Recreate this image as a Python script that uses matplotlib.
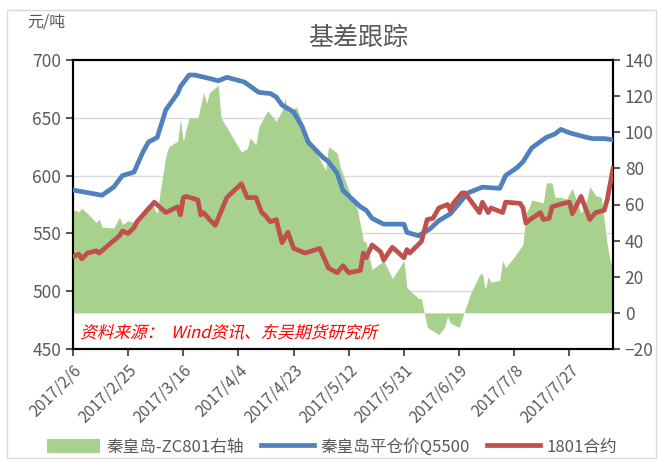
import numpy as np
import pandas as pd
import matplotlib
matplotlib.use('Agg')
import matplotlib.pyplot as plt
from matplotlib.patches import Rectangle, Patch, PathPatch
from matplotlib.lines import Line2D
from matplotlib.textpath import TextPath
from matplotlib.font_manager import FontProperties
from matplotlib.transforms import Affine2D

plt.rcParams['font.family'] = ['Noto Sans CJK SC', 'DejaVu Sans']

start = pd.Timestamp('2017-02-06')

# 秦皇岛-ZC801 (right axis), day offsets from 2017/2/6
green_days = [0, 2, 3, 5, 8, 9, 10, 14, 16, 17, 19, 21, 25, 27, 29, 30, 32, 33, 36, 37,
              38, 39, 40, 43, 45, 46, 47, 50, 51, 58, 60, 61, 63, 64, 67, 70, 72, 73, 74, 76,
              77, 80, 82, 85, 87, 88, 91, 92, 95, 98, 100, 101, 103, 106, 107, 110, 114, 115,
              119, 120, 122, 126, 128, 129, 130, 133, 135, 137, 140, 141, 142, 143, 144, 147,
              148, 149, 152, 155, 156, 157, 158, 162, 163, 165, 166, 168, 170, 172, 173, 175,
              177, 178, 180, 182, 184, 185, 186]
green_vals = [57, 56, 58, 55, 50, 52, 47.5, 47, 53, 49, 51, 50, 58.6, 61, 55, 67, 87, 92, 95, 107,
              95, 102, 108, 108, 122, 116, 122, 126, 108, 89, 91, 97, 93, 103, 112, 106, 112, 119, 111, 113,
              114, 101, 94, 85, 79, 92, 88.5, 81, 68, 57, 40, 39, 24, 27.6, 29, 19, 29, 14,
              8, 8, -8, -12, -8, -2, -5.6, -8, 1.6, 11, 21, 22, 13, 20, 17, 18,
              29, 25, 31, 38, 55, 58, 62.5, 61, 72, 72, 64, 64, 63, 69, 64, 55,
              62.5, 70, 65, 64, 38, 29, 25]

# 秦皇岛平仓价Q5500 (left axis)
blue_days = [0, 10, 14, 17, 21, 24, 26, 29, 32, 36, 37, 40, 42, 47, 50, 53, 59, 64, 68, 70,
             72, 76, 79, 81, 86, 88, 91, 93, 99, 101, 103, 107, 114, 115, 119, 123, 126, 130,
             134, 136, 140, 141, 147, 149, 153, 155, 156, 158, 163, 166, 168, 171, 177, 179,
             183, 186]
blue_vals = [587.5, 583, 590, 600, 603, 620, 629, 633, 657, 671, 677, 687, 687, 684, 682, 685,
             681, 672, 671, 668, 661, 655, 642, 629, 616, 612, 602, 587, 573, 570, 563, 558,
             558, 551, 548, 554, 561, 567, 579, 585, 589, 590, 589, 600, 607, 612, 616, 624,
             633, 636, 640, 637, 633, 632, 632, 631]

# 1801合约 (left axis)
red_days = [0, 2, 3, 5, 8, 9, 16, 17, 19, 21, 22, 28, 32, 36, 37, 38, 39, 43, 44, 45, 47, 49,
            52, 53, 58, 60, 63, 65, 66, 68, 70, 72, 74, 76, 79, 80, 85, 88, 91, 93, 95, 99,
            100, 101, 103, 106, 107, 110, 114, 115, 116, 120, 122, 124, 126, 129, 130, 131,
            134, 135, 140, 141, 143, 144, 148, 149, 154, 155, 156, 158, 161, 162, 164, 165,
            169, 171, 172, 175, 178, 180, 183, 184, 186]
red_vals = [530, 532, 528, 533, 535, 533, 548, 552, 550, 555, 560, 577, 568, 573, 566, 581, 582,
            579, 566, 568, 562, 557, 575, 581, 593, 581, 581, 568, 566, 560, 562, 542, 551, 537,
            534, 533, 537, 520, 516, 522, 516, 518, 533, 529, 540, 534, 527, 538, 529, 536, 533,
            543, 562, 563, 572, 575, 570, 576, 585, 585, 568, 577, 568, 572, 568, 577, 576, 572,
            559, 563, 568, 562, 563, 573, 576, 577, 567, 582, 562, 568, 570, 579, 606]

green_dates = start + pd.to_timedelta(green_days, unit='D')
blue_dates = start + pd.to_timedelta(blue_days, unit='D')
red_dates = start + pd.to_timedelta(red_days, unit='D')
end = start + pd.Timedelta(days=186)
tick_dates = pd.date_range(start, end, freq='19D')

c_green = '#A9D18E'
c_blue = '#4F81BD'
c_red = '#C0504D'
c_text = '#595959'

fig = plt.figure(figsize=(6.61, 4.59), dpi=100)
fig.patches.append(Rectangle((7 / 661, 1 - 458 / 459), 649 / 661, 448 / 459,
                             transform=fig.transFigure, fill=False,
                             edgecolor='#d9d9d9', linewidth=1))

rect = [73 / 661, 1 - 349 / 459, 540 / 661, 289 / 459]
ax = fig.add_axes(rect)
ax.set_xlim(start, end)
ax.set_ylim(450, 700)
ax.set_yticks([450, 500, 550, 600, 650, 700])
ax.grid(axis='y', color='#d9d9d9', linewidth=1)
ax.set_axisbelow(True)
ax.set_xticks(tick_dates)
ax.set_xticklabels([f'{d.year}/{d.month}/{d.day}' for d in tick_dates],
                   rotation=45, ha='right', rotation_mode='anchor')
ax.tick_params(axis='both', labelsize=12.5, colors=c_text, length=5, width=1.5)
ax.tick_params(axis='x', labelsize=11.5, pad=4)
for s in ax.spines.values():
    s.set_linewidth(1.5)
    s.set_color('black')

# area on right axis
ax_r = ax.twinx()
ax_r.set_ylim(-20, 140)
ax_r.set_yticks(range(-20, 141, 20))
ax_r.fill_between(green_dates, 0, green_vals, color=c_green, linewidth=0)
ax_r.tick_params(axis='y', labelsize=12.5, colors=c_text, length=5, width=1.5)
for s in ax_r.spines.values():
    s.set_linewidth(1.5)
    s.set_color('black')

# lines on left axis, drawn on top
ax_l = fig.add_axes(rect, sharex=ax, sharey=ax)
ax_l.patch.set_visible(False)
ax_l.axis('off')
ax_l.plot(blue_dates, blue_vals, color=c_blue, linewidth=3.4, solid_joinstyle='round')
ax_l.plot(red_dates, red_vals, color=c_red, linewidth=3.4, solid_joinstyle='round')

# italic source note (CJK font has no italic, so slant the glyph outlines)
src_path = TextPath((0, 0), '资料来源：  Wind资讯、东吴期货研究所', size=12,
                    prop=FontProperties(family='Noto Sans CJK SC'))
src_tf = Affine2D().skew_deg(14, 0).scale(1 / 72).translate(0.80, 1.21) + fig.dpi_scale_trans
fig.patches.append(PathPatch(src_path, transform=src_tf, facecolor='red',
                             edgecolor='none', zorder=10))

fig.text(358 / 661, 1 - 38 / 459, '基差跟踪', fontsize=18, color=c_text,
         ha='center', va='center')
fig.text(27 / 661, 1 - 22 / 459, '元/吨', fontsize=11.5, color=c_text,
         ha='left', va='center')

handles = [Patch(facecolor=c_green, edgecolor='none'),
           Line2D([], [], color=c_blue, linewidth=3.4),
           Line2D([], [], color=c_red, linewidth=3.4)]
labels = ['秦皇岛-ZC801右轴', '秦皇岛平仓价Q5500', '1801合约']
fig.legend(handles, labels, loc='center', bbox_to_anchor=(332 / 661, 1 - 447 / 459),
           ncol=3, frameon=False, fontsize=12, labelcolor=c_text,
           handlelength=3.2, handletextpad=0.4, columnspacing=1.0, handleheight=0.9)

fig.savefig('out.png', dpi=100)
